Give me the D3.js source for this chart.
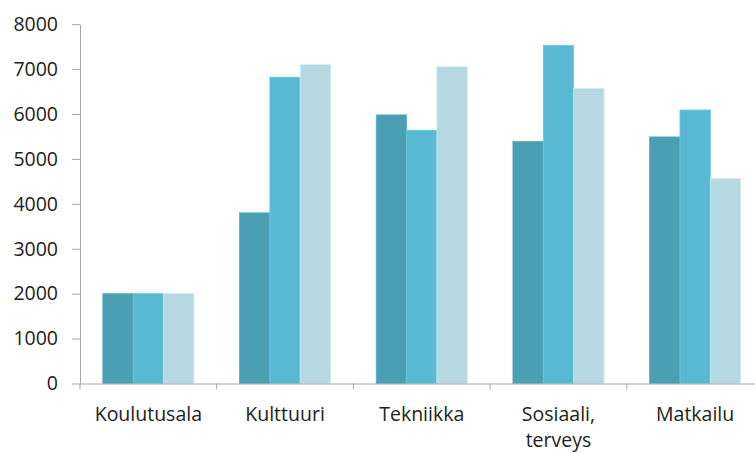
<!DOCTYPE html>
<html>
<head>
<meta charset="utf-8">
<script src="https://cdn.jsdelivr.net/npm/d3@7"></script>
<style>
  html, body { margin: 0; padding: 0; background: #fff; }
  svg { display: block; }
  text { font-family: "Open Sans", sans-serif; fill: #222; }
</style>
</head>
<body>
<svg id="chart" width="755" height="453"></svg>
<script>
const categories = ["Koulutusala", "Kulttuuri", "Tekniikka", "Sosiaali, terveys", "Matkailu"];
const series1 = [2000, 3800, 5980, 5390, 5490];
const series2 = [2000, 6820, 5640, 7530, 6090];
const series3 = [2000, 7100, 7050, 6570, 4560];
const yTicks = [0, 1000, 2000, 3000, 4000, 5000, 6000, 7000, 8000];
const colors = ["#4a9fb3", "#5ab9d2", "#b6d8e3"];

(function () {
const seriesList = [series1, series2, series3];
const svg = d3.select("#chart");
const mLeft = 80, mRight = 763.5, mTop = 24.2, mBottom = 383.5;

const x = d3.scaleBand().domain(categories).range([mLeft, mRight])
  .paddingInner(0.334).paddingOuter(0.167);
const xs = d3.scaleBand().domain(d3.range(seriesList.length)).range([0, x.bandwidth()]);
const y = d3.scaleLinear().domain([0, 8000]).range([mBottom, mTop]);

// bars
categories.forEach((c, i) => {
  const g = svg.append("g").attr("transform", `translate(${x(c)},0)`);
  seriesList.forEach((s, j) => {
    g.append("rect")
      .attr("x", xs(j))
      .attr("width", xs.bandwidth())
      .attr("y", y(s[i]))
      .attr("height", y(0) - y(s[i]))
      .attr("fill", colors[j])
      .attr("stroke", d3.color(colors[j]).brighter(0.25))
      .attr("stroke-width", 0.8);
  });
});

// y axis
const yAxis = d3.axisLeft(y).tickValues(yTicks).tickFormat(d3.format("d"))
  .tickSize(8).tickSizeOuter(0).tickPadding(14);
const ya = svg.append("g").attr("transform", `translate(${mLeft},0)`).call(yAxis);
ya.select(".domain").attr("stroke", "#a6a6a6");
ya.selectAll(".tick line").attr("stroke", "#a6a6a6");
ya.selectAll(".tick text").attr("font-size", "19.5px").attr("font-family", "Open Sans").attr("fill", "#222");

// x axis
const xg = svg.append("g");
xg.append("line").attr("x1", mLeft).attr("x2", mRight).attr("y1", mBottom + 0.5).attr("y2", mBottom + 0.5)
  .attr("stroke", "#a6a6a6");
const bounds = categories.map(c => x(c) - x.step() * x.paddingInner() / 2).concat([mRight]);
bounds.forEach(b => {
  xg.append("line").attr("x1", b).attr("x2", b).attr("y1", mBottom).attr("y2", mBottom + 6)
    .attr("stroke", "#a6a6a6");
});
categories.forEach(c => {
  const lines = c.split(/(?<=,)\s+/);
  const t = xg.append("text")
    .attr("x", x(c) + x.bandwidth() / 2)
    .attr("y", 421)
    .attr("text-anchor", "middle")
    .attr("font-size", "19.5px");
  lines.forEach((ln, k) => {
    t.append("tspan").attr("x", x(c) + x.bandwidth() / 2).attr("dy", k === 0 ? 0 : 26).text(ln);
  });
});
})();
</script>
</body>
</html>
